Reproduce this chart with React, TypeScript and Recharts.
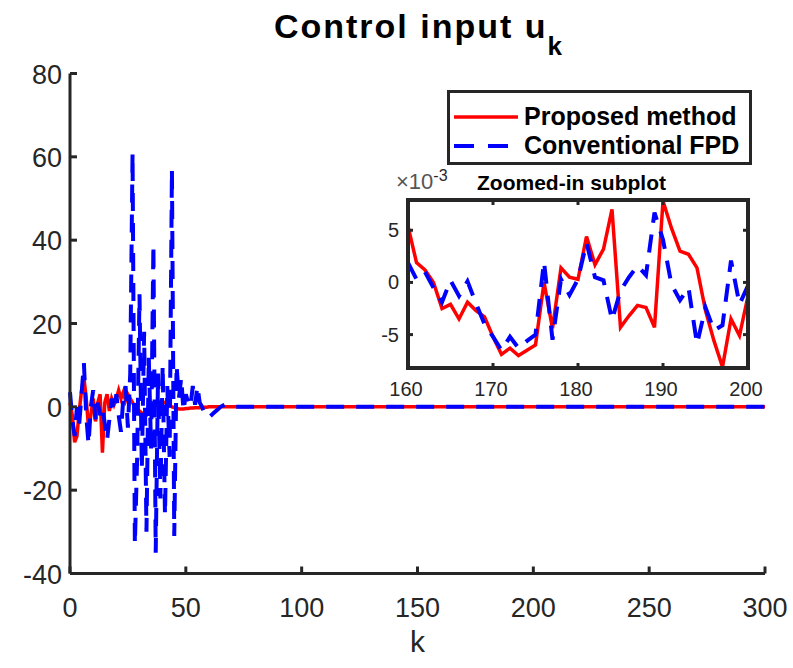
import React from 'react';
import { LineChart, Line, XAxis, YAxis, Legend } from 'recharts';

// ---------------- data ----------------
// Main plot: k = 0..300. Values for k = 0..70;
// beyond that the curves sit on zero except for the 160..200 window (see inset).
const redEarly = [
  1, -2, -8.5, -7, -1, 4, 7, 2, -5, -2,
  2, -3.5, 1, 3, -11, 1, 3, -1, 2, 0.5,
  2, 4, 2, 3.5, 1.5, 3, 2, 1, 0, -0.5,
  -1, -1.5, -2, -2, -1.5, -0.5, 0, 0.5, 1, 1.3,
  1.2, 1, 0.6, 0.3, 0, -0.2, -0.4, -0.5, -0.5, -0.5,
  -0.4, -0.4, -0.3, -0.3, -0.2, -0.2, -0.2, -0.1, -0.1, -0.1,
  0, 0, 0, 0, 0, 0, 0, 0, 0, 0, 0,
];
const blueEarly = [
  3.5, -3, -7, 0, -4, 3, 10.5, -2, -9, 0,
  4, -3, 1, -2, 0, -4, -8, -3, 2, -1,
  3, -2, -6, 2, 5, -5, 8, 61, -33, -12,
  27, -15, 18, -30, 12, -10, 39, -35, 8, -22,
  10, -26, 5, -12, 57, -31, 10, 2, 7, -1,
  3, 1, 0, 5, 0.5, 5, 1, 0, -1.5, -2.5,
  -2.5, -2, -1.5, -1, -0.5, 0, 0.3, 0.5, 0.5, 0.3, 0.2,
];

// Zoomed-in window k = 160..200, values in units of 1e-3
const zoomStart = 160;
const redZoom = [
  5.4, 1.9, 1.2, 0, -2.5, -2.1, -3.5, -1.9, -2.7, -3.3,
  -5.2, -6.9, -6.3, -7.0, -6.5, -6.0, 0, -4.4, 1.4, 0.5,
  0.3, 4.4, 1.7, 3.2, 7.0, -4.3, -3.2, -2.2, -2.4, -4.3,
  7.8, 5.2, 3.0, 2.7, 1.4, -2.7, -5.6, -8.1, -3.5, -5.1,
  -1.3,
];
const blueZoom = [
  1.9, 0.3, 1.0, -0.5, -1.9, 0.2, -1.3, 0.1, -2.0, -4.0,
  -5.2, -6.5, -5.2, -6.3, -5.6, -5.0, 2.0, -5.5, 0.3, -1.2,
  0.3, 3.8, 0.5, 0.2, -3.6, -0.8, 0.5, 1.6, 0.7, 6.7,
  4.1, -0.2, -1.7, -0.5, -5.9, -2.4, -4.6, -4.1, 2.1, -2.1,
  -0.3,
];

const kMax = 300;
const mainXTicks = [0, 50, 100, 150, 200, 250, 300];
const mainYTicks = [-40, -20, 0, 20, 40, 60, 80];
const insetXTicks = [160, 170, 180, 190, 200];
const insetYTicks = [-5, 0, 5];

const seriesNames = ['Proposed method', 'Conventional FPD'];

const valueAt = (early: number[], zoom: number[], k: number) => {
  if (k < early.length) return early[k];
  if (k >= zoomStart && k < zoomStart + zoom.length) return zoom[k - zoomStart] * 1e-3;
  return 0;
};

const mainData = Array.from({ length: kMax + 1 }, (_, k) => ({
  k,
  red: valueAt(redEarly, redZoom, k),
  blue: valueAt(blueEarly, blueZoom, k),
}));

const insetData = redZoom.map((r, i) => ({ k: zoomStart + i, red: r, blue: blueZoom[i] }));

// ---------------- styles ----------------
const FONT = '"Liberation Sans", Arial, Helvetica, sans-serif';
const AX = '#262626';
const RED = '#ff0000';
const BLUE = '#0000ff';
const BLUE_DASH = '18 12';

const INSET_W = 340;
const INSET_H = 168;

const MainXTick = (props: any) => {
  const { x, y, payload } = props;
  return (
    <g>
      <line x1={x} y1={y} x2={x} y2={y - 7} stroke={AX} strokeWidth={3} />
      <text x={x} y={y + 34} textAnchor="middle" dominantBaseline="central" fontSize={27} fill={AX} fontFamily={FONT}>
        {payload.value}
      </text>
    </g>
  );
};

const MainYTick = (props: any) => {
  const { x, y, payload } = props;
  return (
    <g>
      <line x1={x} y1={y} x2={x + 7} y2={y} stroke={AX} strokeWidth={3} />
      <text x={x - 8} y={y + 1} textAnchor="end" dominantBaseline="central" fontSize={27} fill={AX} fontFamily={FONT}>
        {payload.value}
      </text>
    </g>
  );
};

const InsetXTick = (props: any) => {
  const { x, y, payload } = props;
  return (
    <g>
      <line x1={x} y1={y} x2={x} y2={y - 5} stroke={AX} strokeWidth={3} />
      <line x1={x} y1={y - INSET_H} x2={x} y2={y - INSET_H + 5} stroke={AX} strokeWidth={3} />
      <text x={x - 2} y={y + 21} textAnchor="middle" dominantBaseline="central" fontSize={20} fill={AX} fontFamily={FONT}>
        {payload.value}
      </text>
    </g>
  );
};

const InsetYTick = (props: any) => {
  const { x, y, payload } = props;
  return (
    <g>
      <line x1={x} y1={y} x2={x + 5} y2={y} stroke={AX} strokeWidth={3} />
      <line x1={x + INSET_W} y1={y} x2={x + INSET_W - 5} y2={y} stroke={AX} strokeWidth={3} />
      <text x={x - 9} y={y} textAnchor="end" dominantBaseline="central" fontSize={20} fill={AX} fontFamily={FONT}>
        {payload.value}
      </text>
    </g>
  );
};

const LegendBox = (props: any) => {
  const payload = [...(props.payload || [])].sort(
    (a: any, b: any) => seriesNames.indexOf(a.value) - seriesNames.indexOf(b.value)
  );
  return (
    <div
      style={{
        boxSizing: 'border-box',
        width: 305,
        height: 75,
        border: `3px solid ${AX}`,
        background: '#fff',
        padding: '9px 0 0 4px',
        fontFamily: FONT,
      }}
    >
      {payload.map((entry: any, i: number) => {
        const dashed = entry.dataKey === 'blue' || entry.value === seriesNames[1];
        return (
          <div key={i} style={{ display: 'flex', alignItems: 'center', height: 29 }}>
            <svg width={66} height={10} style={{ flex: 'none' }}>
              <line
                x1={0}
                y1={5}
                x2={64}
                y2={5}
                stroke={entry.color}
                strokeWidth={dashed ? 4 : 3.5}
                strokeDasharray={dashed ? '20 14' : undefined}
              />
            </svg>
            <span style={{ fontSize: 25, fontWeight: 'bold', color: '#000', marginLeft: 4, whiteSpace: 'nowrap' }}>
              {entry.value}
            </span>
          </div>
        );
      })}
    </div>
  );
};

export default function App() {
  return (
    <div style={{ position: 'absolute', left: 0, top: 0, width: 793, height: 668, background: '#fff', fontFamily: FONT, overflow: 'hidden' }}>
      {/* Title */}
      <div style={{ position: 'absolute', left: 0, width: 836, top: 7, textAlign: 'center', fontSize: 34, fontWeight: 'bold', color: '#000', whiteSpace: 'nowrap', letterSpacing: 2 }}>
        Control input u<span style={{ fontSize: 26, position: 'relative', top: 17, letterSpacing: 0 }}>k</span>
      </div>

      {/* Main chart */}
      <div style={{ position: 'absolute', left: 0, top: 0 }}>
        <LineChart width={793} height={668} data={mainData} margin={{ top: 73.5, right: 28, bottom: 93.5, left: 69 }}>
          <XAxis
            dataKey="k"
            type="number"
            domain={[0, kMax]}
            ticks={mainXTicks}
            height={1}
            tickSize={0}
            tickMargin={0}
            tick={<MainXTick />}
            axisLine={{ stroke: AX, strokeWidth: 3 }}
            tickLine={false}
            interval={0}
          />
          <YAxis
            type="number"
            domain={[-40, 80]}
            ticks={mainYTicks}
            width={1}
            tickSize={0}
            tickMargin={0}
            tick={<MainYTick />}
            axisLine={{ stroke: AX, strokeWidth: 3 }}
            tickLine={false}
            interval={0}
          />
          <Legend
            layout="horizontal"
            verticalAlign="middle"
            align="center"
            content={<LegendBox />}
            wrapperStyle={{ left: 447, top: 90, width: 305, height: 75 }}
          />
          <Line name={seriesNames[0]} dataKey="red" stroke={RED} strokeWidth={3.5} dot={false} isAnimationActive={false} />
          <Line name={seriesNames[1]} dataKey="blue" stroke={BLUE} strokeWidth={4} strokeDasharray={BLUE_DASH} dot={false} isAnimationActive={false} />
        </LineChart>
      </div>

      {/* x label */}
      <div style={{ position: 'absolute', left: 0, width: 835, top: 625, textAlign: 'center', fontSize: 30, color: AX }}>k</div>

      {/* Inset background */}
      <div style={{ position: 'absolute', left: 408, top: 200, width: INSET_W, height: INSET_H, background: '#fff' }} />

      {/* Inset chart */}
      <div style={{ position: 'absolute', left: 358, top: 160 }}>
        <LineChart width={420} height={250} data={insetData} margin={{ top: 40, right: 30, bottom: 41, left: 49 }}>
          <XAxis
            dataKey="k"
            type="number"
            domain={[160, 200]}
            ticks={insetXTicks}
            height={1}
            tickSize={0}
            tickMargin={0}
            tick={<InsetXTick />}
            axisLine={false}
            tickLine={false}
            interval={0}
          />
          <YAxis
            type="number"
            domain={[-8.2, 7.9]}
            ticks={insetYTicks}
            width={1}
            tickSize={0}
            tickMargin={0}
            tick={<InsetYTick />}
            axisLine={false}
            tickLine={false}
            interval={0}
          />
          <Line dataKey="red" stroke={RED} strokeWidth={3.5} dot={false} isAnimationActive={false} />
          <Line dataKey="blue" stroke={BLUE} strokeWidth={4} strokeDasharray={BLUE_DASH} dot={false} isAnimationActive={false} />
        </LineChart>
      </div>

      {/* Inset frame */}
      <div style={{ position: 'absolute', left: 406, top: 198, width: INSET_W + 4, height: INSET_H + 4, border: `4px solid ${AX}`, boxSizing: 'border-box' }} />

      {/* Inset exponent and title */}
      <div style={{ position: 'absolute', left: 396, top: 169, fontSize: 22, color: '#555', whiteSpace: 'nowrap' }}>
        ×10<span style={{ position: 'relative', top: -8, fontSize: 16, color: AX }}>-3</span>
      </div>
      <div style={{ position: 'absolute', left: 477, top: 171, fontSize: 21, fontWeight: 'bold', color: '#000', whiteSpace: 'nowrap' }}>
        Zoomed-in subplot
      </div>
    </div>
  );
}
